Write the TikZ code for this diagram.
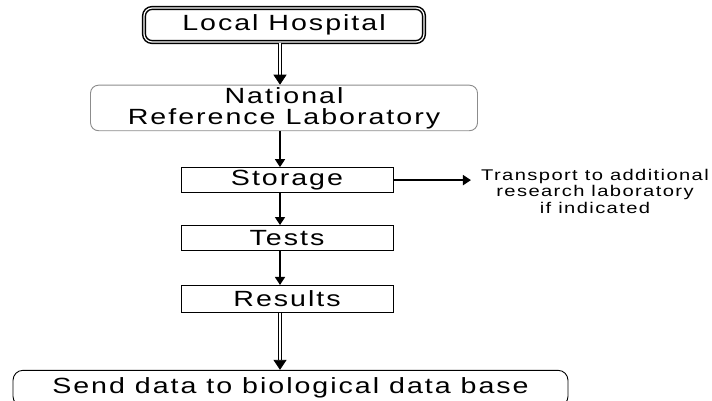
\documentclass[tikz,border=0pt]{standalone}
\usepackage{fontspec}
\setmainfont{Liberation Sans}[FakeStretch=1.3,LetterSpace=9]
\usetikzlibrary{arrows.meta,positioning}
\tikzset{
  flowbox/.style={rectangle,draw=black,line width=0.9pt,fill=white,align=center,
    inner sep=2pt,font=\fontsize{22}{21}\selectfont},
  stepbox/.style={flowbox,minimum width=212pt,minimum height=25pt},
  roundbox/.style={flowbox,rounded corners=8pt},
  arr/.style={-{Triangle[length=8pt,width=10pt]},line width=1.4pt},
  dblarr/.style={-{Triangle[length=10pt,width=13pt]},double,double distance=2.5pt,
    line width=0.8pt},
  note/.style={font=\fontsize{15.5}{16.5}\selectfont,align=center}
}

\begin{document}
\begin{tikzpicture}[x=1pt,y=-1pt]
  \useasboundingbox (0,0) rectangle (712,401);
  \coordinate (spine) at (280,0);
  \node[roundbox,double,double distance=1.2pt,line width=1.5pt,minimum width=280pt,
    minimum height=34pt] (hosp) at (284,25) {Local Hospital};
  \node[roundbox,draw=black!45,minimum width=387pt,minimum height=45pt,
    below=42pt of hosp] (nat) {National\\Reference Laboratory};
  \node[stepbox,below=36pt of nat,xshift=3pt] (store) {Storage};
  \node[stepbox,below=32pt of store] (tests) {Tests};
  \node[stepbox,minimum height=27pt,below=34pt of tests] (res) {Results};
  \node[roundbox,rounded corners=10pt,minimum width=555pt,minimum height=36pt,
    below=57pt of res,xshift=3.5pt] (send) {Send data to biological data base};
  \node[note,inner sep=1pt] (trans) at (595,191) {Transport to additional\\research laboratory\\if indicated};
  % main flow down the spine
  \draw[dblarr] (hosp.south -| spine) -- (nat.north -| spine);
  \draw[arr] (nat.south -| spine) -- (store.north -| spine);
  \draw[arr] (store.south -| spine) -- (tests.north -| spine);
  \draw[arr] (tests.south -| spine) -- (res.north -| spine);
  \draw[dblarr] (res.south -| spine) -- (send.north -| spine);
  \draw[arr,line width=1.8pt,shorten >=9pt] (store.east) -- (store.east -| trans.west);
\end{tikzpicture}
\end{document}
